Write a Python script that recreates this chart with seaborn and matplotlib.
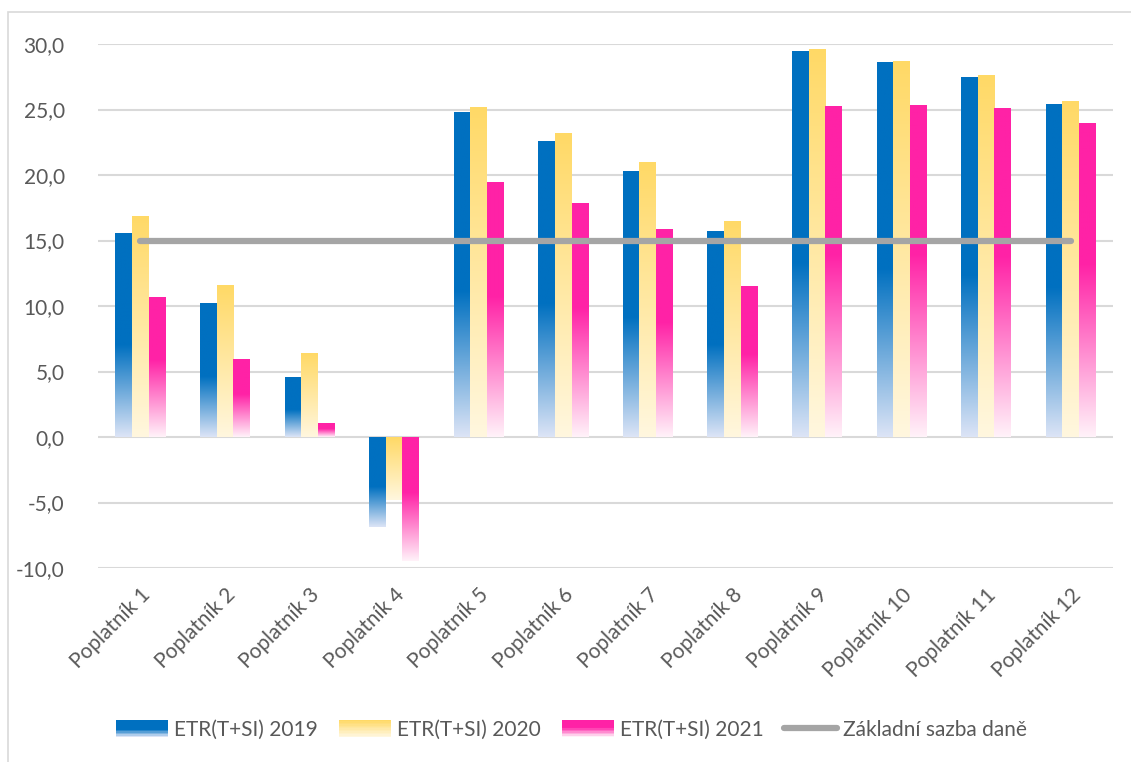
import numpy as np
import pandas as pd
import matplotlib
matplotlib.use("Agg")
import matplotlib.pyplot as plt
import seaborn as sns
from matplotlib.colors import to_rgb
from matplotlib.patches import Rectangle
from matplotlib.legend_handler import HandlerBase
from matplotlib.lines import Line2D

categories = [f"Poplatník {i}" for i in range(1, 13)]
etr_2019 = [15.6, 10.25, 4.6, -6.85, 24.8, 22.6, 20.3, 15.7, 29.5, 28.6, 27.45, 25.4]
etr_2020 = [16.9, 11.6, 6.4, -4.8, 25.2, 23.2, 21.0, 16.5, 29.65, 28.7, 27.65, 25.65]
etr_2021 = [10.7, 5.95, 1.1, -9.5, 19.5, 17.9, 15.9, 11.5, 25.3, 25.35, 25.1, 24.0]
base_rate = 15.0
series_names = ["ETR(T+SI) 2019", "ETR(T+SI) 2020", "ETR(T+SI) 2021"]
line_name = "Základní sazba daně"
yticks = [-10, -5, 0, 5, 10, 15, 20, 25, 30]

# gradient specs: (top colour, bottom colour, fraction of bar height kept solid from top)
grad = {
    series_names[0]: ("#0070C0", "#DCE4F6", 0.55),
    series_names[1]: ("#FFD966", "#FFF7DF", 0.0),
    series_names[2]: ("#FF22A6", "#FFF2F9", 0.45),
}

df = pd.DataFrame({
    "cat": categories * 3,
    "val": etr_2019 + etr_2020 + etr_2021,
    "ser": [series_names[0]] * 12 + [series_names[1]] * 12 + [series_names[2]] * 12,
})

sns.set_theme(style="white")
plt.rcParams["font.family"] = ["Lato", "DejaVu Sans"]
TXT = "#595959"
FS = 15

fig = plt.figure(figsize=(11.31, 7.62), dpi=100)
ax = fig.add_axes([98 / 1131, 1 - 568 / 762, (1113 - 98) / 1131, (568 - 44) / 762])

palette = {k: v[0] for k, v in grad.items()}
sns.barplot(data=df, x="cat", y="val", hue="ser", palette=palette, ax=ax,
            width=0.59, dodge=True, legend=False, saturation=1, errorbar=None)

ax.set_ylim(-10, 30)
ax.set_xlim(-0.5, 11.5)


def gradient_img(top, bottom, solid, n=256):
    t = np.linspace(0, 1, n)  # 0 = top, 1 = bottom
    if solid >= 1:
        f = np.zeros(n)
    else:
        f = np.clip((t - solid) / (1 - solid), 0, 1)
    c0 = np.array(to_rgb(top))
    c1 = np.array(to_rgb(bottom))
    img = c0[None, :] * (1 - f[:, None]) + c1[None, :] * f[:, None]
    return img[:, None, :]


# apply gradients to bars (containers in hue order)
for name, cont in zip(series_names, ax.containers):
    top, bottom, solid = grad[name]
    img = gradient_img(top, bottom, solid)
    for p in cont.patches:
        x0 = p.get_x()
        w = p.get_width()
        y0 = p.get_y()
        h = p.get_height()
        ylo, yhi = min(y0, y0 + h), max(y0, y0 + h)
        im = ax.imshow(img, extent=[x0, x0 + w, ylo, yhi], aspect="auto",
                       origin="upper", zorder=2, interpolation="bilinear")
        im.set_clip_path(p)
        p.set_facecolor("none")
        p.set_edgecolor("none")

ax.set_xlim(-0.5, 11.5)
ax.set_ylim(-10, 30)

# base tax rate line
sns.lineplot(x=list(range(12)), y=[base_rate] * 12, ax=ax, color="#A5A5A5",
             linewidth=4.5, solid_capstyle="round", zorder=3, legend=False)

ax.set_yticks(yticks)
ax.set_yticklabels([f"{v:.1f}".replace(".", ",") for v in yticks], color=TXT, fontsize=FS)
ax.set_xticks(range(12))
ax.set_xticklabels(categories, rotation=45, ha="right", rotation_mode="anchor",
                   color=TXT, fontsize=FS)
ax.tick_params(axis="x", length=0, pad=12)
ax.tick_params(axis="y", length=0, pad=24)
ax.grid(axis="y", color="#D9D9D9", linewidth=1.5, zorder=0)
ax.set_axisbelow(True)
ax.set_xlabel("")
ax.set_ylabel("")
for s in ax.spines.values():
    s.set_visible(False)


class GradHandler(HandlerBase):
    def __init__(self, top, bottom, solid):
        super().__init__()
        self.top, self.bottom, self.solid = top, bottom, solid

    def create_artists(self, legend, orig_handle, xdescent, ydescent, width, height, fontsize, trans):
        n = 12
        arts = []
        img = gradient_img(self.top, self.bottom, self.solid, n)[:, 0, :]
        hh = height * 1.0
        y_top = -ydescent + hh
        for i in range(n):
            r = Rectangle((-xdescent, y_top - (i + 1) * hh / n), width, hh / n + 0.3,
                          facecolor=img[i], edgecolor="none", transform=trans)
            arts.append(r)
        return arts


handles = [Rectangle((0, 0), 1, 1) for _ in series_names] + [
    Line2D([0], [0], color="#A5A5A5", linewidth=4.5, solid_capstyle="round")]
labels = series_names + [line_name]
hmap = {h: GradHandler(*grad[n]) for h, n in zip(handles[:3], series_names)}
leg = fig.legend(handles, labels, handler_map=hmap, loc="center", ncol=4,
                 bbox_to_anchor=(0.505, 1 - 730 / 762), frameon=False, fontsize=FS,
                 handlelength=2.5, handleheight=0.9, columnspacing=1.0, handletextpad=0.3,
                 labelcolor=TXT)

# outer chart border
fig.add_artist(Rectangle((8 / 1131, -0.01), 1.2, 1 - 12 / 762 + 0.01,
                         transform=fig.transFigure, fill=False,
                         edgecolor="#D9D9D9", linewidth=1.2))

fig.savefig("out.png", dpi=100, facecolor="white")
